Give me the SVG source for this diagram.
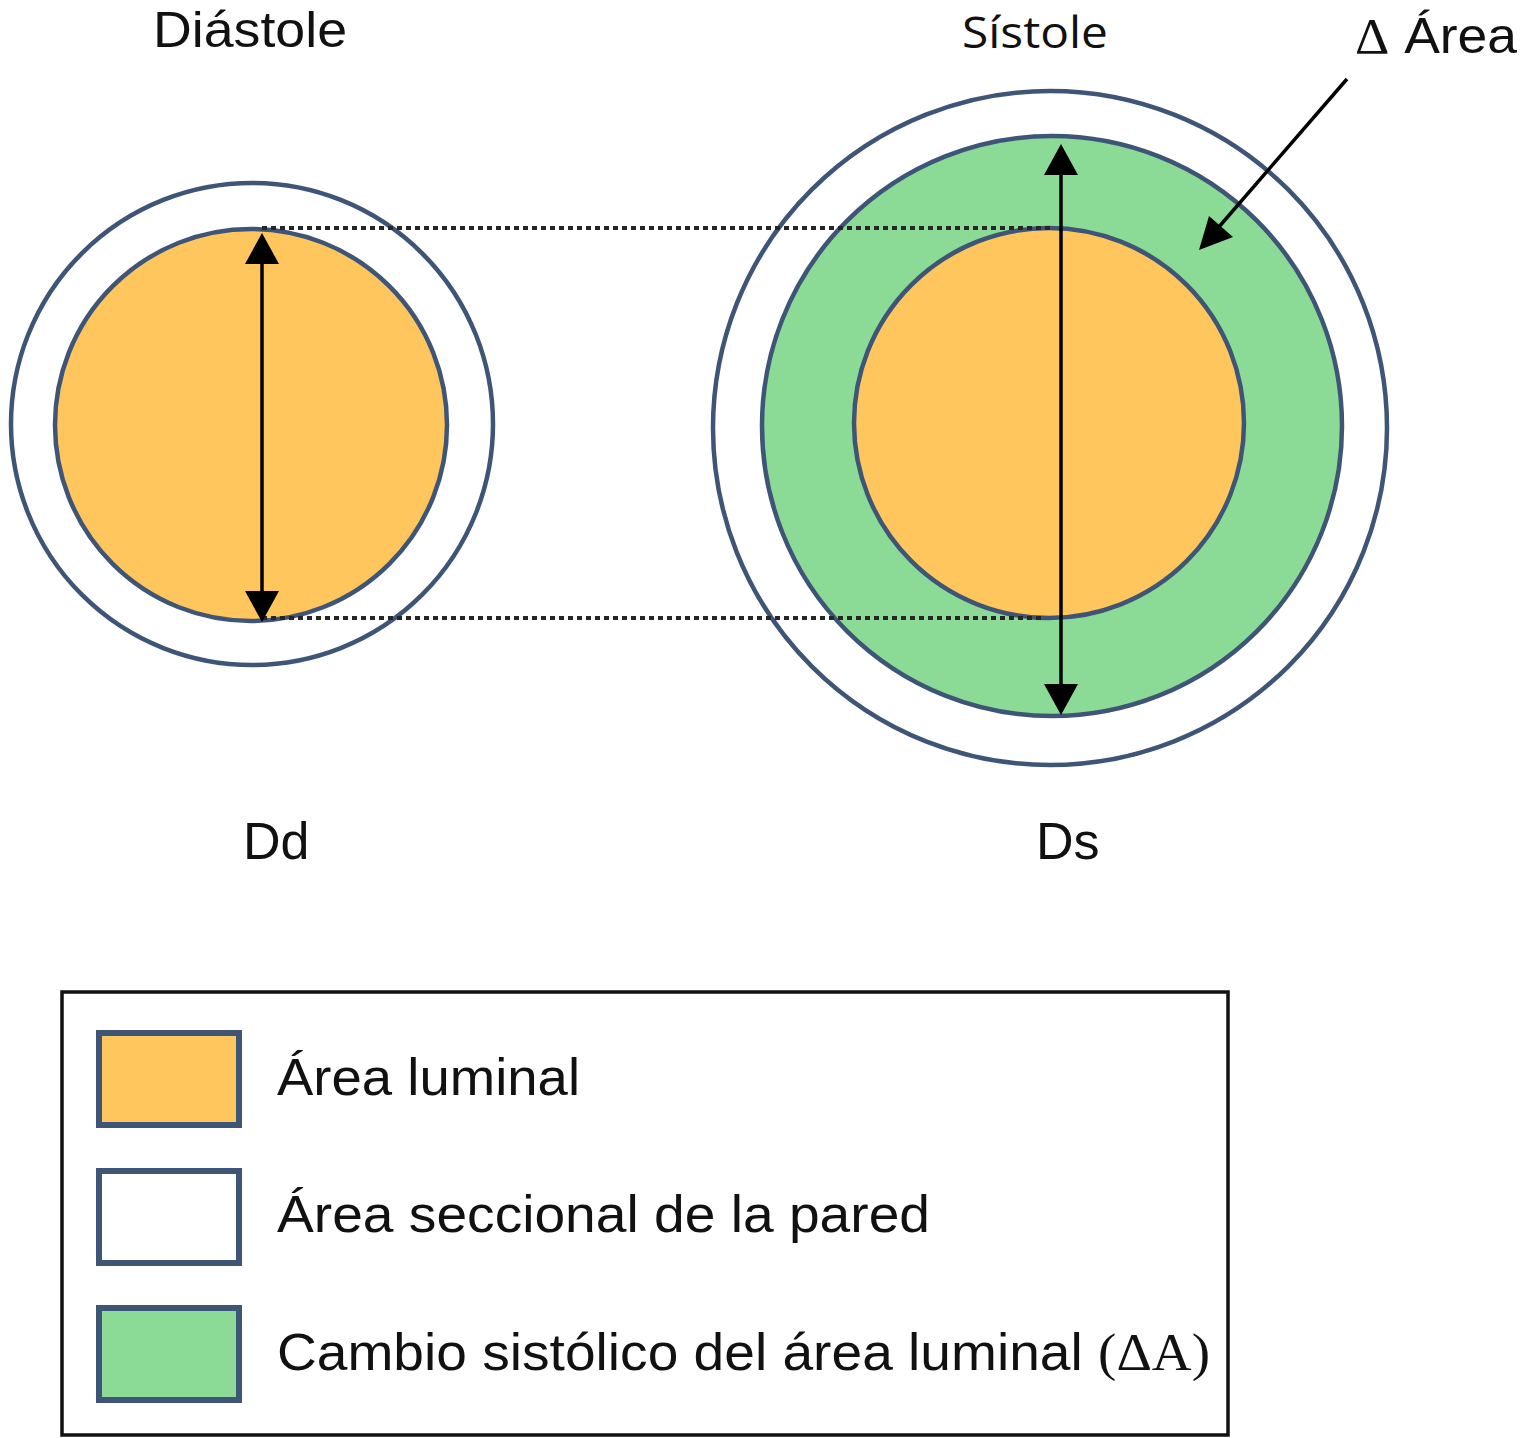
<svg xmlns="http://www.w3.org/2000/svg" width="1520" height="1438" viewBox="0 0 1520 1438">
<defs>
<style>
.ring{fill:#ffffff;stroke:#3e5577;stroke-width:4.5}
.lumen{fill:#fec65c;stroke:#3e5577;stroke-width:4.5}
.delta{fill:#8bdb97;stroke:#3e5577;stroke-width:4.5}
.dot{stroke:#262626;stroke-width:4;stroke-dasharray:5 4;fill:none}
.arr{stroke:#000;stroke-width:3.5;fill:none}
.lab{font-family:"Liberation Sans",Arial,Helvetica,sans-serif;fill:#111}
.sys{font-family:"Open Sans","Liberation Sans",sans-serif;fill:#111}
.ser{font-family:"Liberation Serif","Times New Roman",serif}
.sw{stroke:#3e5577;stroke-width:6}
</style>
</defs>
<rect width="1520" height="1438" fill="#ffffff"/>

<g id="diastole">
<circle class="ring" cx="252" cy="424" r="241"/>
<circle class="lumen" cx="251" cy="425" r="196"/>
</g>

<g id="sistole">
<circle class="ring" cx="1050" cy="428" r="337"/>
<circle class="delta" cx="1052" cy="426" r="290"/>
<circle class="lumen" cx="1049" cy="423" r="195"/>
</g>

<g id="connectors">
<line class="dot" x1="262" y1="228" x2="1050" y2="228"/>
<line class="dot" x1="262" y1="618" x2="1042" y2="618"/>
<line class="arr" x1="262" y1="262" x2="262" y2="592"/>
<path d="M262,233 L245,264 L279,264 z" fill="#000"/>
<path d="M262,622 L245,591 L279,591 z" fill="#000"/>
<line class="arr" x1="1061" y1="174" x2="1061" y2="685"/>
<path d="M1061,144 L1044,175 L1078,175 z" fill="#000"/>
<path d="M1061,715 L1044,684 L1078,684 z" fill="#000"/>
<line class="arr" x1="1347" y1="79" x2="1218" y2="228"/>
<path d="M1199,250 L1209,216 L1233,237 z" fill="#000"/>
</g>

<g id="labels">
<text class="lab" x="153" y="47" font-size="50" textLength="194" lengthAdjust="spacingAndGlyphs">Diástole</text>
<text class="sys" x="962" y="48" font-size="44" textLength="146" lengthAdjust="spacingAndGlyphs">Sístole</text>
<text class="lab" x="1355" y="53" font-size="50" textLength="162" lengthAdjust="spacingAndGlyphs"><tspan class="ser">Δ</tspan> Área</text>
<text class="lab" x="243" y="859" font-size="52">Dd</text>
<text class="lab" x="1036" y="859" font-size="52">Ds</text>
</g>

<g id="legend">
<rect x="62" y="992" width="1166" height="443" fill="#ffffff" stroke="#111" stroke-width="3.5"/>
<rect class="sw" x="99" y="1033" width="140" height="92" fill="#fec65c"/>
<rect class="sw" x="99" y="1171" width="140" height="92" fill="#ffffff"/>
<rect class="sw" x="99" y="1308" width="140" height="92" fill="#8bdb97"/>
<text class="lab" x="277" y="1095" font-size="52" textLength="303" lengthAdjust="spacingAndGlyphs">Área luminal</text>
<text class="lab" x="277" y="1232" font-size="52" textLength="653" lengthAdjust="spacingAndGlyphs">Área seccional de la pared</text>
<text class="lab" x="277" y="1370" font-size="52" textLength="933" lengthAdjust="spacingAndGlyphs">Cambio sistólico del área luminal <tspan class="ser">(ΔA)</tspan></text>
</g>
</svg>
